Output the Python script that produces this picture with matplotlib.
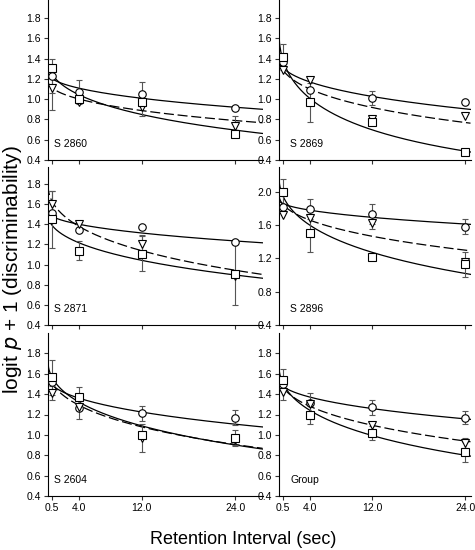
import numpy as np
import matplotlib
matplotlib.use("Agg")
import matplotlib.pyplot as plt

plt.rcParams['font.family'] = ['Liberation Sans', 'DejaVu Sans']

retention = [0.5, 4.0, 12.0, 24.0]
xtick_labels = ["0.5", "4.0", "12.0", "24.0"]
panel_names = ["S 2860", "S 2869", "S 2871", "S 2896", "S 2604", "Group"]

# observed values (rows = panels, cols = retention intervals)
circle_values = [[1.23, 1.07, 1.055, 0.917],
                 [1.37, 1.095, 1.01, 0.97],
                 [1.51, 1.34, 1.375, 1.22],
                 [1.82, 1.79, 1.73, 1.58],
                 [1.52, 1.26, 1.21, 1.17],
                 [1.50, 1.31, 1.27, 1.17]]
triangle_values = [[1.11, 0.97, 0.92, 0.74],
                   [1.29, 1.19, 0.80, 0.83],
                   [1.60, 1.40, 1.20, 0.89],
                   [1.72, 1.69, 1.63, 1.16],
                   [1.41, 1.27, 0.97, 0.95],
                   [1.42, 1.30, 1.10, 0.92]]
square_values = [[1.31, 1.00, 0.97, 0.66],
                 [1.42, 0.97, 0.78, 0.48],
                 [1.45, 1.14, 1.11, 0.905],
                 [2.00, 1.51, 1.22, 1.13],
                 [1.565, 1.37, 0.995, 0.97],
                 [1.54, 1.20, 1.02, 0.83]]

circle_err = [[0.17, 0.12, 0.12, 0.0],
              [0.0, 0.0, 0.07, 0.0],
              [0.0, 0.0, 0.0, 0.0],
              [0.0, 0.12, 0.12, 0.09],
              [0.0, 0.10, 0.07, 0.07],
              [0.0, 0.10, 0.07, 0.06]]
triangle_err = [[0.22, 0.0, 0.09, 0.09],
                [0.0, 0.0, 0.0, 0.0],
                [0.13, 0.0, 0.09, 0.0],
                [0.0, 0.0, 0.08, 0.0],
                [0.07, 0.0, 0.14, 0.05],
                [0.08, 0.0, 0.0, 0.05]]
square_err = [[0.0, 0.0, 0.0, 0.0],
              [0.13, 0.19, 0.03, 0.0],
              [0.28, 0.09, 0.17, 0.31],
              [0.15, 0.23, 0.03, 0.15],
              [0.17, 0.10, 0.0, 0.08],
              [0.11, 0.09, 0.07, 0.10]]

# fitted curve parameters: y = a * exp(-b * sqrt(t))
circle_fit_a = [1.26, 1.397, 1.527, 1.905, 1.569, 1.54]
circle_fit_b = [0.064, 0.0886, 0.0433, 0.0338, 0.0716, 0.0583]
triangle_fit_a = [1.18, 1.407, 1.79, 1.965, 1.646, 1.584]
triangle_fit_b = [0.082, 0.123, 0.1306, 0.0843, 0.122, 0.1066]
square_fit_a = [1.38, 1.66, 1.50, 2.18, 1.72, 1.677]
square_fit_b = [0.14, 0.25, 0.105, 0.155, 0.132, 0.151]

ylims = [(0.4, 1.98), (0.4, 1.98), (0.4, 1.97), (0.4, 2.3), (0.4, 2.0), (0.4, 2.0)]
yticks_std = [0.4, 0.6, 0.8, 1.0, 1.2, 1.4, 1.6, 1.8]
yticks_2896 = [0.4, 0.8, 1.2, 1.6, 2.0]

W, H = 475, 550
fig = plt.figure(figsize=(W / 100, H / 100), dpi=100)

col_x = [(48, 262.5), (279, 470.5)]
col_xmax = [27.5, 24.7]
row_y = [(0, 160), (167, 325), (333, 496)]

for i, name in enumerate(panel_names):
    r, c = divmod(i, 2)
    x0, x1 = col_x[c]
    yt, yb = row_y[r]
    ax = fig.add_axes([x0 / W, (H - yb) / H, (x1 - x0) / W, (yb - yt) / H])
    ax.set_xlim(0, col_xmax[c])
    ax.set_ylim(*ylims[i])
    for s in ['top', 'right']:
        ax.spines[s].set_visible(False)
    for s in ['left', 'bottom']:
        ax.spines[s].set_linewidth(0.8)

    tt = np.linspace(0, col_xmax[c], 400)
    ax.plot(tt, circle_fit_a[i] * np.exp(-circle_fit_b[i] * np.sqrt(tt)),
            color='black', lw=0.9, zorder=2)
    ax.plot(tt, triangle_fit_a[i] * np.exp(-triangle_fit_b[i] * np.sqrt(tt)),
            color='black', lw=0.9, ls=(0, (8, 3)), zorder=2)
    ax.plot(tt, square_fit_a[i] * np.exp(-square_fit_b[i] * np.sqrt(tt)),
            color='black', lw=0.9, zorder=2)

    for vals, errs, mk in [(circle_values[i], circle_err[i], 'o'),
                           (triangle_values[i], triangle_err[i], 'v'),
                           (square_values[i], square_err[i], 's')]:
        v = np.array(vals)
        e = np.array(errs)
        m = e > 0
        if m.any():
            ax.errorbar(np.array(retention)[m], v[m], yerr=e[m], fmt='none',
                        ecolor='#555555', elinewidth=0.8, capsize=2.5,
                        capthick=0.8, zorder=3)
        ax.plot(retention, v, linestyle='none', marker=mk,
                ms=5.4 if mk != 'v' else 6.0,
                mfc='white', mec='black', mew=0.8, zorder=4)

    ax.set_xticks(retention)
    if r == 2:
        ax.set_xticklabels(xtick_labels, fontsize=7.5)
    else:
        ax.set_xticklabels([])
    ax.set_yticks(yticks_2896 if i == 3 else yticks_std)
    ax.set_yticklabels([f"{t:.1f}" for t in (yticks_2896 if i == 3 else yticks_std)],
                       fontsize=7.5)
    ax.tick_params(direction='out', length=3, width=0.8, pad=2, color='#333333')
    ax.text(0.03 if c == 0 else 0.06, 0.1, name, transform=ax.transAxes,
            fontsize=7.5, ha='left', va='center')

fig.text(13 / W, 1 - 270 / H, r"logit $\it{p}$ + 1 (discriminability)",
         rotation=90, ha='center', va='center', fontsize=15)
fig.text(243 / W, 1 - 540 / H, "Retention Interval (sec)",
         ha='center', va='center', fontsize=13)

fig.savefig("out.png", dpi=100)
